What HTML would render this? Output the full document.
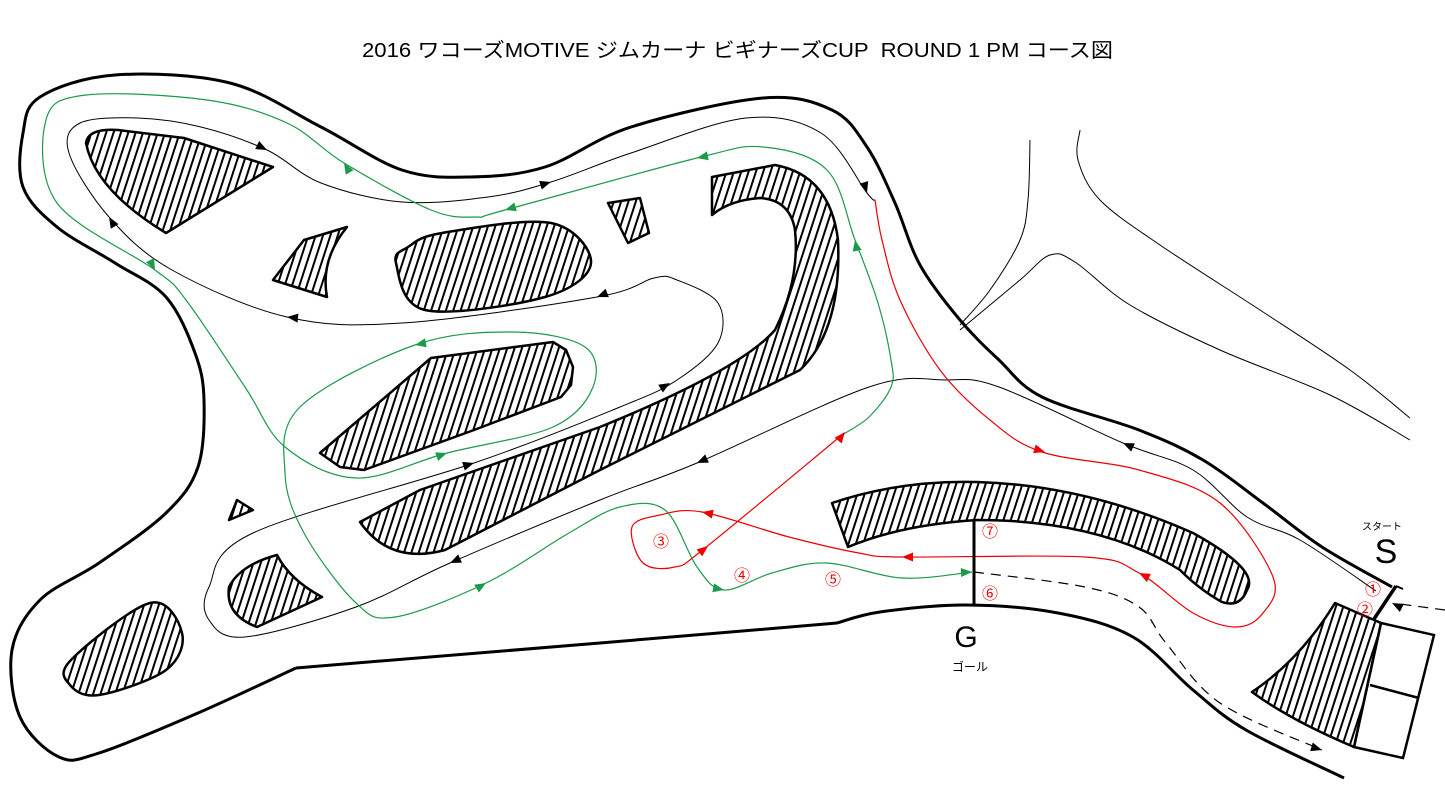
<!DOCTYPE html>
<html><head><meta charset="utf-8">
<style>
html,body{margin:0;padding:0;background:#fff;}
svg{display:block;}
text{font-family:"Liberation Sans","Noto Sans CJK JP",sans-serif;}
</style></head>
<body>
<svg id="s" width="1445" height="796" viewBox="0 0 1445 796" xmlns="http://www.w3.org/2000/svg">
<defs>
<pattern id="h" width="7" height="7" patternUnits="userSpaceOnUse" patternTransform="rotate(18)">
<rect width="7" height="7" fill="#fff"/><line x1="2" y1="0" x2="2" y2="7" stroke="#000" stroke-width="2"/>
</pattern>
</defs>
<text x="362" y="57" font-size="20" textLength="751" lengthAdjust="spacingAndGlyphs" xml:space="preserve">2016 ワコーズMOTIVE ジムカーナ ビギナーズCUP  ROUND 1 PM コース図</text>
<g id="g"></g>
<line x1="974" y1="520" x2="974" y2="604" stroke="#000" stroke-width="3"/>
<line x1="1396" y1="586" x2="1374" y2="619" stroke="#000" stroke-width="3.5"/>
<line x1="1396" y1="586" x2="1403" y2="589" stroke="#000" stroke-width="2"/>
<g fill="#e00" font-size="16">
<text x="982" y="537">⑦</text><text x="982" y="599">⑥</text><text x="825" y="585">⑤</text>
<text x="734" y="581">④</text><text x="653" y="547">③</text>
<text x="1365" y="595">①</text><text x="1357" y="615">②</text>
</g>
<text x="1386" y="563" font-size="34" text-anchor="middle">S</text>
<text x="1382" y="530" font-size="10" text-anchor="middle">スタート</text>
<text x="966" y="647" font-size="30" text-anchor="middle">G</text>
<text x="970" y="671" font-size="12" text-anchor="middle">ゴール</text>
</svg>
<script>
function cr(p,closed){
  var n=p.length,d="M"+p[0][0]+","+p[0][1];
  var m=closed?n:n-1;
  for(var i=0;i<m;i++){
    var p0=p[(i-1+n)%n],p1=p[i],p2=p[(i+1)%n],p3=p[(i+2)%n];
    if(!closed){ if(i==0)p0=p1; if(i+2>=n)p3=p2; }
    var c1=[p1[0]+(p2[0]-p0[0])/6,p1[1]+(p2[1]-p0[1])/6];
    var c2=[p2[0]-(p3[0]-p1[0])/6,p2[1]-(p3[1]-p1[1])/6];
    d+=" C"+c1[0].toFixed(1)+","+c1[1].toFixed(1)+" "+c2[0].toFixed(1)+","+c2[1].toFixed(1)+" "+p2[0]+","+p2[1];
  }
  return d+(closed?" Z":"");
}
var out="";
function path(p,closed,attrs){out+='<path d="'+cr(p,closed)+'" '+attrs+'/>';}
function poly(p,attrs){out+='<polygon points="'+p.map(function(a){return a.join(",")}).join(" ")+'" '+attrs+'/>';}
function arrow(x,y,dx,dy,col){
  var l=Math.hypot(dx,dy);dx/=l;dy/=l;var L=11,W=4.5;
  var bx=x-dx*L,by=y-dy*L;
  out+='<polygon points="'+x+','+y+' '+(bx-dy*W)+','+(by+dx*W)+' '+(bx+dy*W)+','+(by-dx*W)+'" fill="'+col+'"/>';
}
var isl='fill="url(#h)" stroke="#000" stroke-width="2.5" stroke-linejoin="round"';
path([[1392,587],[1322,547],[1263,503],[1203,460],[1139,430],[1042,397],[999,360],[960,320],[920,265],[895,203],[867,147],[832,110],[763,98],[631,127],[545,167],[471,177],[402,170],[321,127],[230,83],[115,75],[40,97],[23,133],[23,187],[57,227],[115,263],[166,297],[195,353],[204,400],[198,467],[166,513],[99,563],[40,600],[12,650],[20,717],[59,757],[99,753],[198,713],[296,668]],false,'fill="none" stroke="#000" stroke-width="3"');
out+='<path d="M296,668 L600,643 L837,623" fill="none" stroke="#000" stroke-width="3"/>';
path([[837,623],[880,612],[966,605],[1058,613],[1133,637],[1193,690],[1246,730],[1344,778]],false,'fill="none" stroke="#000" stroke-width="3"');
var bl='fill="none" stroke="#000" stroke-width="1"';
path([[1030,140],[1028,200],[1020,240],[990,290],[960,325]],false,bl);
path([[1080,130],[1078,160],[1100,200],[1160,245],[1260,310],[1350,370],[1410,418]],false,bl);
path([[960,330],[1020,280],[1050,255],[1075,262],[1130,305],[1220,350],[1330,395],[1410,440]],false,bl);
out+='<path d="M86,143 Q88,128 118,130 L184,138 L273,167 L166,233 Q95,190 86,143 Z" '+isl+'/>';
out+='<path d="M347,227 Q320,260 327,297 L273,280 L304,240 Z" '+isl+'/>';
path([[442,233],[551,223],[591,263],[545,297],[425,310],[396,263],[408,247]],true,isl);
poly([[608,203],[640,198],[649,233],[628,243]],isl);
out+='<path d="M712,177 L775,165 Q830,175 838,240 Q842,330 800,370 Q700,420 600,470 L445,550 Q390,565 360,522 L420,490 L600,427 Q740,370 775,330 Q800,280 795,230 Q790,200 760,198 Q730,200 712,215 Z" '+isl+'/>';
poly([[431,358],[553,342],[566,350],[573,367],[571,385],[561,397],[474,430],[364,470],[340,467],[320,453]],isl);
poly([[237,500],[253,510],[229,520]],isl);
out+='<path d="M229,587 Q240,565 277,555 Q290,580 322,597 L257,627 Q225,615 229,587 Z" '+isl+'/>';
path([[71,660],[150,603],[182,633],[166,670],[99,695],[70,685]],true,isl);
out+='<path d="M832,503 Q900,480 977,482 Q1085,485 1193,533 Q1260,570 1247,590 Q1240,608 1222,602 Q1200,590 1180,570 Q1100,520 977,520 Q900,525 848,547 Z" '+isl+'/>';
out+='<path d="M1335,603 L1381,623 L1354,747 Q1290,720 1252,692 Q1300,660 1335,603 Z" '+isl+'/>';
out+='<polygon points="1381,623 1434,635 1403,758 1354,747" fill="none" stroke="#000" stroke-width="2.5"/>';
out+='<line x1="1370" y1="685" x2="1419" y2="698" stroke="#000" stroke-width="2.5"/>';
var blk=[[1376,591],[1300,540],[1247,517],[1193,470],[1123,443],[999,387],[945,380],[869,387],[697,463],[600,500],[450,563],[356,607],[245,637],[209,620],[209,587],[253,533],[474,463],[620,407],[677,380],[718,343],[718,303],[677,280],[654,278],[597,297],[402,323],[287,317],[172,270],[109,217],[69,153],[80,123],[138,118],[201,127],[267,150],[321,183],[402,202],[488,197],[551,182],[631,153],[746,118],[821,133],[867,193],[875,200]];
path(blk,false,'fill="none" stroke="#000" stroke-width="1"');
var red=[[875,200],[882,240],[900,300],[940,370],[990,420],[1042,452],[1139,470],[1220,503],[1273,577],[1263,613],[1236,627],[1193,613],[1139,573],[1085,557],[902,557],[859,553],[789,537],[702,512],[660,515],[632,527],[643,563],[675,567],[705,548],[842,435]];
path(red,false,'fill="none" stroke="#e00" stroke-width="1.2"');
var grn=[[842,435],[869,417],[891,387],[891,360],[878,303],[855,240],[827,170],[763,147],[697,158],[505,210],[476,217],[431,210],[344,163],[287,123],[207,100],[86,95],[46,120],[57,203],[155,270],[186,300],[245,387],[285,447],[356,478],[447,453],[553,427],[593,387],[585,347],[514,332],[415,345],[300,407],[285,473],[304,533],[356,603],[395,617],[486,583],[569,533],[620,507],[665,510],[697,567],[724,590],[772,573],[826,563],[902,578],[972,572]];
path(grn,false,'fill="none" stroke="#1a9a4a" stroke-width="1.2"');
path([[974,572],[1085,587],[1139,607],[1166,643],[1220,703],[1322,750]],false,'fill="none" stroke="#000" stroke-width="1.2" stroke-dasharray="10,7"');
out+='<line x1="1445" y1="610" x2="1400" y2="604" stroke="#000" stroke-width="1.2" stroke-dasharray="10,7"/>';
[[1123,443,-1,-0.45],[697,463,-1,0.45],[450,563,-1,0.45],[474,463,1,-0.3],[670,383,1,-0.6],[597,297,-1,0.4],[287,317,-1,-0.1],[109,217,-0.6,-1],[267,150,1,0.5],[551,182,1,-0.3],[867,193,0.3,1],[1392,603,-1,-0.5],[1322,750,1,0.3]].forEach(function(a){arrow(a[0],a[1],a[2],a[3],"#000")});
[[1045,452,1,0.3],[1139,573,-1,-0.5],[902,557,-1,0],[702,512,-1,-0.2],[708,546,1,-0.8],[845,432,0.8,-1]].forEach(function(a){arrow(a[0],a[1],a[2],a[3],"#e00")});
[[855,240,-0.2,-1],[697,158,-1,0.2],[505,210,-1,0.3],[344,163,-0.6,-1],[155,270,0.5,1],[447,453,1,-0.35],[415,345,-1,0.2],[486,583,1,-0.6],[724,590,1,0.2],[972,572,1,-0.05]].forEach(function(a){arrow(a[0],a[1],a[2],a[3],"#1a9a4a")});
document.getElementById("g").innerHTML=out;
</script>
</body></html>
